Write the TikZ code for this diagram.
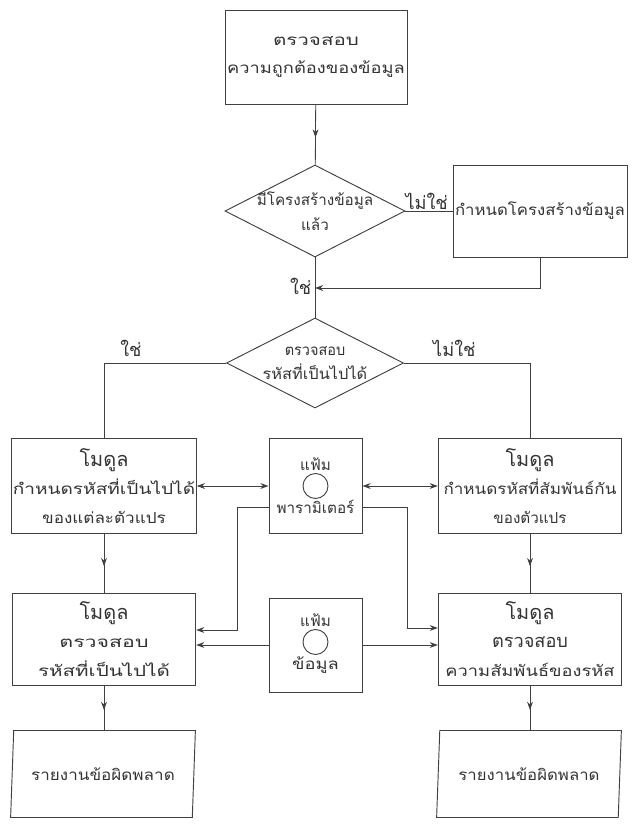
\documentclass[tikz,border=0pt]{standalone}
\usepackage{fontspec}
\newfontfamily\thaifont[Script=Thai]{Loma}
\usetikzlibrary{positioning,shapes.geometric,arrows.meta,decorations.markings}
\newcommand\thtext{\thaifont\fontsize{13}{24}\selectfont}
\newcommand\thbig{\thaifont\fontsize{17}{22}\selectfont}
\newcommand\thmid{\thaifont\fontsize{15.5}{22}\selectfont}
\newcommand\stretchx[2]{\scalebox{#1}[1]{#2}}

\begin{document}
\begin{tikzpicture}[
  x=0.03cm, y=-0.03cm,
  line/.style={draw=black!75, line width=0.7pt},
  box/.style={draw=black!75, line width=0.8pt, align=center, font=\thtext, text=black!80, inner sep=1pt},
  modbox/.style={box, minimum width=5.5cm},
  filebox/.style={draw=black!75, line width=0.8pt, minimum width=2.79cm, minimum height=2.85cm},
  decision/.style={diamond, draw=black!75, line width=0.8pt, inner sep=0pt},
  report/.style={trapezium, trapezium left angle=79, trapezium right angle=101, trapezium stretches=true,
    draw=black!75, line width=0.8pt, font=\thtext, text=black!80, inner sep=0pt},
  disk/.style={circle, draw=black!75, line width=0.8pt, minimum size=0.75cm, inner sep=0pt},
  lbl/.style={font=\thtext, text=black!80, align=center, inner sep=1pt},
  answer/.style={font=\thmid, text=black!80, inner sep=1pt},
  midarrow/.style={postaction={decorate}, decoration={markings,
    mark=at position 0.55 with {\arrow{Stealth[length=7pt,width=5pt]}}}},
  >={Stealth[length=7pt,width=5pt]}
]
\useasboundingbox (0,0) rectangle (631,824);

% top of the chart
\node[box, minimum width=5.46cm, minimum height=2.82cm] (chk) at (316,57)
  {\stretchx{1.35}{ตรวจสอบ}\\\stretchx{1.2}{ความถูกต้องของข้อมูล}};
\node[decision, minimum width=5.4cm, minimum height=2.76cm] (hasst) at (315,211) {};
\node[lbl] (hasstt) at (hasst) {มีโครงสร้างข้อมูล\\[-3pt]แล้ว};
\node[box, minimum width=5.22cm, minimum height=2.76cm] (defst) at (540,211) {\stretchx{1.1}{กำหนดโครงสร้างข้อมูล}};
\coordinate (join) at (315,288);
\node[decision, minimum width=5.31cm, minimum height=2.7cm] (ckcode) at (315,363) {};
\node[lbl] (ckcodet) at (ckcode) {\stretchx{0.95}{ตรวจสอบ}\\[-4pt]\stretchx{1.07}{รหัสที่เป็นไปได้}};

% modules and files
\node[modbox, minimum height=2.85cm] (mvalid) at (104,486)
  {{\thbig โมดูล}\\\stretchx{1.25}{กำหนดรหัสที่เป็นไปได้}\\\stretchx{1.12}{ของแต่ละตัวแปร}};
\node[filebox] (fpar) at (315.5,486) {};
\node[disk] (dpar) at (315.5,486) {};
\node[lbl, above=1pt of dpar] (fpart) {แฟ้ม};
\node[lbl, below=0pt of dpar] (fparb) {พารามิเตอร์};
\node[modbox, minimum height=2.85cm] (mrel) at (530,486)
  {{\thbig โมดูล}\\\stretchx{1.12}{กำหนดรหัสที่สัมพันธ์กัน}\\ของตัวแปร};
\node[modbox, minimum height=2.76cm] (mckv) at (104,639)
  {{\thbig โมดูล}\\\stretchx{1.4}{ตรวจสอบ}\\\stretchx{1.35}{รหัสที่เป็นไปได้}};
\node[filebox, minimum height=2.82cm] (fdat) at (315.5,645) {};
\node[disk] (ddat) at (315.5,642) {};
\node[lbl, above=1pt of ddat] (fdatt) {แฟ้ม};
\node[lbl, below=0pt of ddat] (fdatb) {\stretchx{1.2}{ข้อมูล}};
\node[modbox, minimum height=2.76cm] (mckr) at (530,639)
  {{\thbig โมดูล}\\{\thmid ตรวจสอบ}\\\stretchx{1.2}{ความสัมพันธ์ของรหัส}};

% reports
\node[report, minimum width=5.55cm, minimum height=2.61cm] (rep1) at (103,774) {\stretchx{1.12}{รายงานข้อผิดพลาด}};
\node[report, minimum width=5.55cm, minimum height=2.61cm] (rep2) at (529,774) {\stretchx{1.1}{รายงานข้อผิดพลาด}};

\coordinate (bendl) at (237,630);
\coordinate (bendr) at (407,628);

\draw[line, midarrow] (chk) -- (hasst);
\draw[line] (hasst) -- node[answer, above, pos=0.45] (no1) {ไม่ใช่} (defst);
\draw[line, ->] (defst.south) |- (join);
\draw[line] (hasst.south) -- (ckcode.north);
\node[answer, anchor=east] (yes1) at ([xshift=-2pt,yshift=1pt]join) {ใช่};
\draw[line] (ckcode.west) -| node[answer, above=4pt, pos=0.39] (yes2) {ใช่} (mvalid.north);
\draw[line] (ckcode.east) -| node[answer, above=4pt, pos=0.2] (no2) {ไม่ใช่} (mrel.north);
\draw[line, <->] (mvalid) -- (fpar);
\draw[line, <->] (fpar) -- (mrel);
\draw[line, ->] (fparb.west -| fpar.west) -| (bendl) -- (bendl -| mckv.east);
\draw[line, ->] (fparb.east -| fpar.east) -| (bendr) -- (bendr -| mckr.west);
\draw[line, ->] (fdat.west) -- (fdat.west -| mckv.east);
\draw[line, ->] (fdat.east) -- (fdat.east -| mckr.west);
\draw[line, midarrow] (mvalid) -- (mckv);
\draw[line, midarrow] (mrel) -- (mckr);
\draw[line, midarrow] (mckv.south) -- (mckv.south |- rep1.north);
\draw[line, midarrow] (mckr.south) -- (mckr.south |- rep2.north);
\end{tikzpicture}
\end{document}
